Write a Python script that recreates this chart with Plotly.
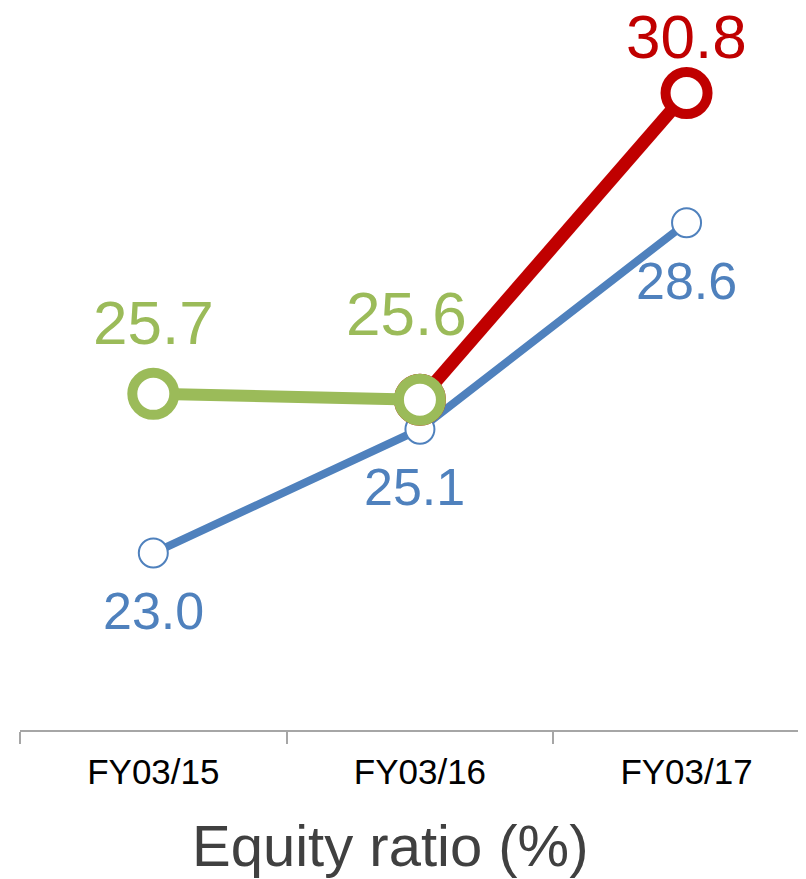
import plotly.graph_objects as go

categories = ["FY03/15", "FY03/16", "FY03/17"]
blue_values = [23.0, 25.1, 28.6]
green_values = [25.7, 25.6, None]
red_values = [None, 25.6, 30.8]
title_text = "Equity ratio (%)"

BLUE = "#4F81BD"
GREEN = "#9BBB59"
RED = "#C00000"
FONT = "Liberation Sans, Arial, sans-serif"

fig = go.Figure()

fig.add_trace(go.Scatter(
    x=categories, y=blue_values, mode="lines+markers",
    line=dict(color=BLUE, width=8),
    marker=dict(size=29, color="white", line=dict(color=BLUE, width=2)),
    hoverinfo="skip", showlegend=False,
))
fig.add_trace(go.Scatter(
    x=categories, y=red_values, mode="lines+markers",
    line=dict(color=RED, width=13),
    marker=dict(size=42, color="white", line=dict(color=RED, width=10)),
    hoverinfo="skip", showlegend=False, connectgaps=False,
))
fig.add_trace(go.Scatter(
    x=categories, y=green_values, mode="lines+markers",
    line=dict(color=GREEN, width=12),
    marker=dict(size=42, color="white", line=dict(color=GREEN, width=10)),
    hoverinfo="skip", showlegend=False, connectgaps=False,
))

# data labels
blue_shifts = [(0, -58), (-5, -58), (0, -58)]
for c, v, (dx, dy) in zip(categories, blue_values, blue_shifts):
    fig.add_annotation(x=c, y=v, text=f"{v:.1f}", showarrow=False,
                       xshift=dx, yshift=dy, yanchor="middle",
                       font=dict(family=FONT, size=52, color=BLUE))
green_shifts = [(0, 71), (-13, 86), None]
for c, v, s in zip(categories, green_values, green_shifts):
    if v is None:
        continue
    fig.add_annotation(x=c, y=v, text=f"{v:.1f}", showarrow=False,
                       xshift=s[0], yshift=s[1], yanchor="middle",
                       font=dict(family=FONT, size=62, color=GREEN))
for c, v in zip(categories, red_values):
    if v is None or c != categories[-1]:
        continue
    fig.add_annotation(x=c, y=v, text=f"{v:.1f}", showarrow=False,
                       yshift=57, yanchor="middle",
                       font=dict(family=FONT, size=62, color=RED))

fig.add_annotation(x=0.4705, y=0, xref="paper", yref="paper", text=title_text,
                   showarrow=False, yanchor="middle", yshift=-115,
                   font=dict(family=FONT, size=58, color="#404040"))

fig.update_layout(
    width=798, height=871,
    margin=dict(l=12, r=0, t=0, b=149, autoexpand=False),
    paper_bgcolor="white", plot_bgcolor="white",
    xaxis=dict(
        type="category", range=[-0.5, 2.448],
        showline=True, linecolor="#A6A6A6", linewidth=2,
        ticks="outside", tickson="boundaries", ticklen=12,
        tickcolor="#A6A6A6", tickwidth=1.5,
        showgrid=False, zeroline=False,
        tickfont=dict(family=FONT, size=35, color="black"),
        ticklabelstandoff=10,
    ),
    yaxis=dict(range=[20, 32.242], visible=False, showgrid=False, zeroline=False),
)

fig.write_html("out.html")
